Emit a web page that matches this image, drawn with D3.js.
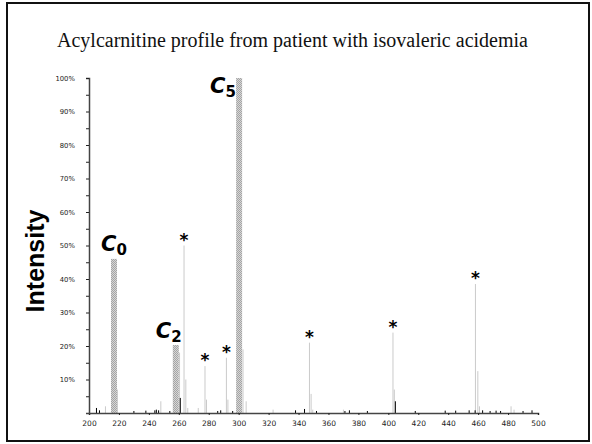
<!DOCTYPE html>
<html>
<head>
<meta charset="utf-8">
<script src="https://cdn.jsdelivr.net/npm/d3@7"></script>
<style>
  body { margin: 0; background: #fff; }
</style>
</head>
<body>
<div id="chart"></div>
<script>
// labelled carnitine peaks (hatched bars): name, subscript, m/z, intensity %
var barNames = ["C", "C", "C"];
var barSubs = ["0", "2", "5"];
var barMz = [216.7, 258, 300.3];
var barInt = [46, 20.3, 100];

// light grey spectrum lines: m/z, intensity %
var greyMz = [211, 219, 248, 260.5, 263.5, 264.7, 266, 273, 277.5, 278.5, 291.8, 292.8, 302.9, 305, 323, 347.3, 348.4, 349.5, 370, 403.1, 404, 458.2, 459.8, 460.9, 482, 484];
var greyInt = [2, 7, 3.5, 18, 50, 10, 1.5, 1.5, 14, 4, 16.5, 4, 19, 3.5, 1, 21, 5.7, 1, 1, 24, 7, 38.5, 12.5, 2, 2, 1];

// small black spectrum lines
var blackMz = [205, 207, 230, 238, 244, 245, 246.5, 254, 261, 286, 288, 296, 338, 344, 352, 371, 374, 386, 404.7, 418, 438, 445, 454, 458, 463, 468, 472, 475, 490, 496];
var blackInt = [1.5, 0.8, 0.6, 0.7, 0.8, 1, 0.8, 0.6, 4.5, 0.6, 0.8, 0.6, 0.8, 1.2, 0.6, 0.6, 0.8, 0.6, 3.5, 0.6, 0.7, 0.7, 0.8, 0.8, 0.8, 0.6, 0.7, 0.6, 0.6, 0.8];

// peaks marked with an asterisk
var starMz = [263.5, 277.5, 291.8, 347.3, 403.1, 458.2];
var starInt = [50, 14, 16.5, 21, 24, 38.5];

var xTicks = d3.range(200, 501, 20);
var yTicks = d3.range(10, 101, 10);

var width = 592, height = 444;

var svg = d3.select("#chart")
    .append("svg")
    .attr("width", width)
    .attr("height", height);

// frame
svg.append("rect")
    .attr("x", 7).attr("y", 3)
    .attr("width", 582).attr("height", 438)
    .attr("fill", "none")
    .attr("stroke", "#111")
    .attr("stroke-width", 2);

// hatch pattern for the labelled bars
var defs = svg.append("defs");
var pat = defs.append("pattern")
    .attr("id", "hatch")
    .attr("width", 2).attr("height", 2)
    .attr("patternUnits", "userSpaceOnUse");
pat.append("rect").attr("width", 2).attr("height", 2).attr("fill", "#d6d6d6");
pat.append("rect").attr("width", 1).attr("height", 1).attr("fill", "#a4a4a4");
pat.append("rect").attr("x", 1).attr("y", 1).attr("width", 1).attr("height", 1).attr("fill", "#a4a4a4");

var x = d3.scaleLinear().domain([200, 500]).range([89, 538]);
var y = d3.scaleLinear().domain([0, 100]).range([413, 78]);

// title
svg.append("text")
    .attr("x", 57)
    .attr("y", 47)
    .attr("font-family", "Liberation Serif, Times New Roman, serif")
    .attr("font-size", 20)
    .attr("fill", "#111")
    .text("Acylcarnitine profile from patient with isovaleric acidemia");

// y axis title
svg.append("text")
    .attr("transform", "translate(44,261) rotate(-90)")
    .attr("text-anchor", "middle")
    .attr("font-family", "Liberation Sans, Arial, sans-serif")
    .attr("font-weight", "bold")
    .attr("font-size", 25)
    .attr("fill", "#000")
    .text("Intensity");

// spectrum lines
function lines(mz, inten, color) {
    svg.append("g").selectAll("line")
        .data(mz)
        .enter().append("line")
        .attr("x1", function (d) { return x(d); })
        .attr("x2", function (d) { return x(d); })
        .attr("y1", y(0))
        .attr("y2", function (d, i) { return y(inten[i]); })
        .attr("stroke", color)
        .attr("stroke-width", 1);
}
lines(greyMz, greyInt, "#cacaca");
lines(blackMz, blackInt, "#000");

// hatched bars
var barW = 4; // m/z units
svg.append("g").selectAll("rect")
    .data(barMz)
    .enter().append("rect")
    .attr("x", function (d) { return x(d - barW / 2); })
    .attr("width", function (d) { return x(d + barW / 2) - x(d - barW / 2); })
    .attr("y", function (d, i) { return y(barInt[i]); })
    .attr("height", function (d, i) { return y(0) - y(barInt[i]); })
    .attr("fill", "url(#hatch)");

// bar labels (offsets in px relative to bar top)
var labelDx = [-13, -20, -29];
var labelDy = [-8, -7, 15];
var lab = svg.append("g").selectAll("text")
    .data(barMz)
    .enter().append("text")
    .attr("x", function (d, i) { return x(d) + labelDx[i]; })
    .attr("y", function (d, i) { return y(barInt[i]) + labelDy[i]; })
    .attr("font-family", "DejaVu Sans, sans-serif")
    .attr("font-weight", "bold")
    .attr("font-style", "italic")
    .attr("font-size", 21)
    .attr("fill", "#000");
lab.append("tspan").text(function (d, i) { return barNames[i]; });
lab.append("tspan")
    .attr("font-size", 15)
    .attr("font-style", "normal")
    .attr("dy", 4)
    .text(function (d, i) { return barSubs[i]; });

// asterisks
svg.append("g").selectAll("text")
    .data(starMz)
    .enter().append("text")
    .attr("x", function (d) { return x(d); })
    .attr("y", function (d, i) { return y(starInt[i]); })
    .attr("text-anchor", "middle")
    .attr("font-family", "DejaVu Sans, sans-serif")
    .attr("font-weight", "bold")
    .attr("font-size", 17)
    .attr("fill", "#000")
    .text("*");

// axes
var xAxis = svg.append("g")
    .attr("transform", "translate(0," + y(0) + ")")
    .call(d3.axisBottom(x).tickValues(xTicks).tickSize(2).tickFormat(d3.format("d")));
var yAxis = svg.append("g")
    .attr("transform", "translate(" + x(200) + ",0)")
    .call(d3.axisLeft(y).tickValues(d3.range(5, 101, 5)).tickSize(3)
        .tickFormat(function (d) { return yTicks.indexOf(d) >= 0 ? d + "%" : ""; }));

[xAxis, yAxis].forEach(function (g) {
    g.select(".domain").attr("stroke", "#444").attr("stroke-width", 1.5);
    g.selectAll(".tick line").attr("stroke", "#222");
    g.selectAll("text")
        .attr("font-family", "DejaVu Sans, sans-serif")
        .attr("fill", "#222");
});
xAxis.selectAll("text").attr("font-size", 7.5).attr("dy", "1.1em");
yAxis.selectAll("text").attr("font-size", 6.8).attr("dx", "-1.2em");
</script>
</body>
</html>
